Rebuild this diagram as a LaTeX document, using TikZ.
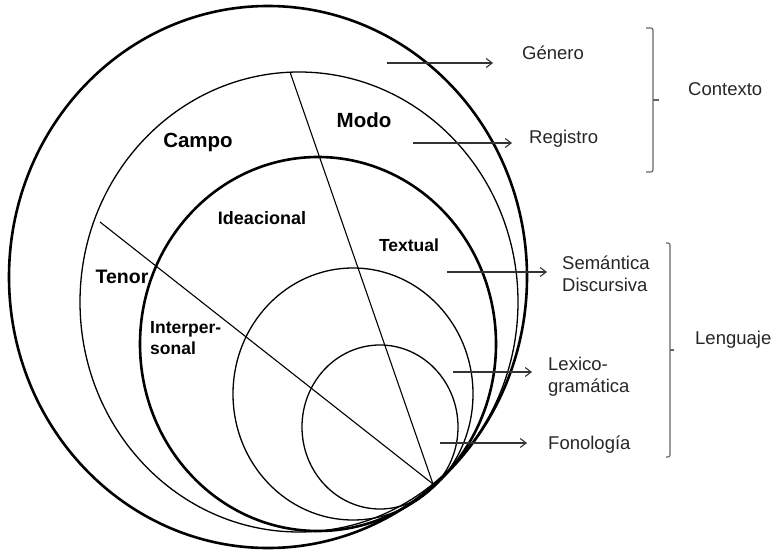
\documentclass[tikz,border=0pt]{standalone}
\usepackage{fontspec}
\setmainfont{Liberation Sans}
\usetikzlibrary{arrows.meta}
\begin{document}
\begin{tikzpicture}[x=1pt,y=-1pt,
  thickring/.style={line width=2.6pt,black},
  thinring/.style={line width=1.3pt,black},
  divider/.style={line width=1.1pt,black},
  pointer/.style={line width=1.1pt,draw=black!80,-{Straight Barb[length=6pt,width=9pt]}},
  brace/.style={line width=1.1pt,draw=black!60,rounded corners=2pt},
  lbl/.style={font=\fontsize{18.5}{22}\selectfont,text=black!85,inner sep=0pt,anchor=west,align=left},
  blbl/.style={font=\fontsize{20.5}{24}\selectfont\bfseries,text=black,inner sep=0pt},
  slbl/.style={font=\fontsize{18}{21}\selectfont\bfseries,text=black,inner sep=0pt}]
\useasboundingbox (0,0) rectangle (774,553);
% rings
\draw[thickring] (268,277) ellipse [x radius=259pt, y radius=271pt];
\draw[thinring] (299,302) ellipse [x radius=219pt, y radius=230pt];
\draw[thickring] (318,344) ellipse [x radius=178pt, y radius=187pt];
\draw[thinring] (353,394) ellipse [x radius=120pt, y radius=126pt];
\draw[thinring] (380,427) ellipse [x radius=78pt, y radius=82pt];
% dividers
\coordinate (tip) at (433,484);
\coordinate (mtop) at (290,72);
\coordinate (tleft) at (100,222);
\draw[divider] (mtop) -- (tip);
\draw[divider] (tleft) -- (tip);
% ring labels
\node[blbl] (campo) at (198,142) {Campo};
\node[blbl] (modo) at (364,120) {Modo};
\node[blbl,font=\fontsize{19.5}{23}\selectfont\bfseries] (tenor) at (122,277) {Tenor};
\node[slbl] (idea) at (262,218) {Ideacional};
\node[slbl,font=\fontsize{17.5}{21}\selectfont\bfseries] (textual) at (409,245) {Textual};
\node[slbl,anchor=north west,align=left,font=\fontsize{17.5}{21}\selectfont\bfseries] (inter) at (150,321) {Interper-\\sonal};
% right labels
\node[lbl] (genero) at (522,53) {Género};
\node[lbl] (registro) at (529,139) {Registro};
\node[lbl,anchor=north west] (sem) at (562,256) {Semántica\\Discursiva};
\node[lbl,anchor=north west] (lex) at (548,357) {Lexico-\\gramática};
\node[lbl] (fono) at (548,445) {Fonología};
\node[lbl] (contexto) at (688,89) {Contexto};
\node[lbl] (lenguaje) at (695,340) {Lenguaje};
% pointers
\coordinate (g0) at (387,63); \coordinate (g1) at (493,63);
\coordinate (r0) at (413,143); \coordinate (r1) at (512,143);
\coordinate (s0) at (447,272); \coordinate (s1) at (547,272);
\coordinate (l0) at (453,372); \coordinate (l1) at (532,372);
\coordinate (f0) at (440,443); \coordinate (f1) at (527,443);
\draw[pointer] (g0) -- (g1);
\draw[pointer] (r0) -- (r1);
\draw[pointer] (s0) -- (s1);
\draw[pointer] (l0) -- (l1);
\draw[pointer] (f0) -- (f1);
% braces
\coordinate (ct) at (653,28); \coordinate (cb) at (653,172); \coordinate (cm) at (653,100);
\draw[brace] ([xshift=-7pt]ct) -- (ct) -- (cb) -- ([xshift=-7pt]cb);
\draw[brace] (cm) -- ([xshift=6pt]cm);
\coordinate (lt) at (670,243); \coordinate (lb) at (670,457); \coordinate (lm) at (670,350);
\draw[brace] ([xshift=-4pt]lt) -- (lt) -- (lb) -- ([xshift=-4pt]lb);
\draw[brace] (lm) -- ([xshift=4pt]lm);
\end{tikzpicture}
\end{document}
